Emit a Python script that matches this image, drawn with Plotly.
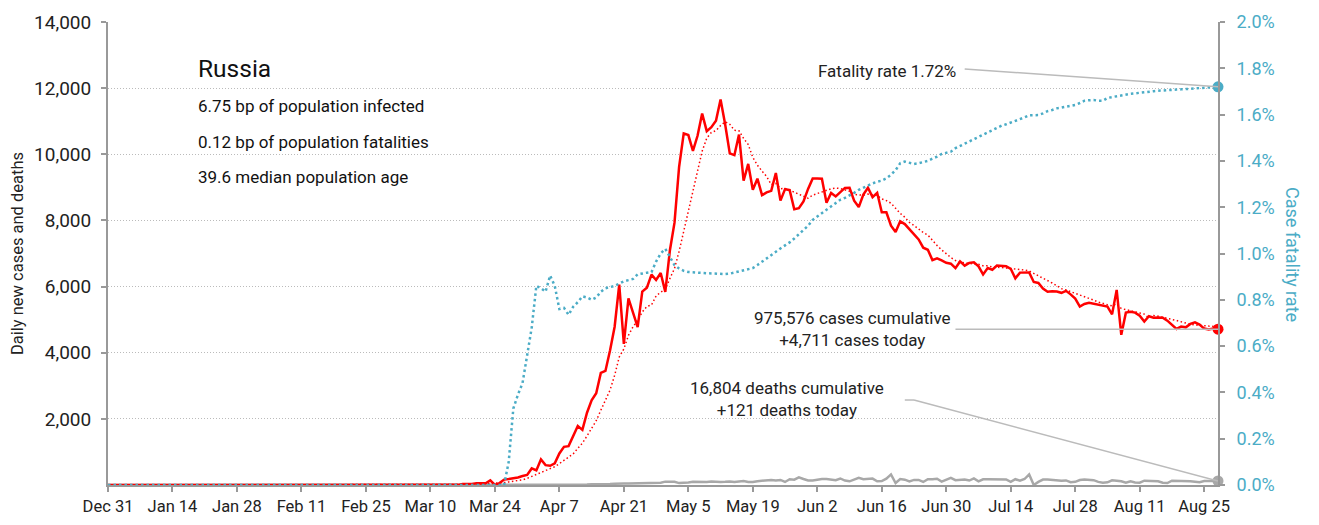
import pandas as pd
import plotly.graph_objects as go

# daily values (Dec 31 2019 .. Aug 28 2020)
dates = pd.date_range("2019-12-31", "2020-08-28", freq="D")

cases_early = [0] * 61  # Dec 31 .. Feb 29
cases_mar = [0, 0, 1, 0, 0, 1, 6, 4, 3, 0, 3, 8, 6, 11, 14, 4, 30, 21, 33, 52,
             54, 53, 140, 0, 57, 163, 182, 196, 228, 270, 302]
cases_apr = [501, 440, 771, 601, 582, 658, 954, 1154, 1175, 1459, 1786, 1667, 2186,
             2558, 2774, 3388, 3448, 4070, 4785, 6060, 4268, 5642, 5236, 4774, 5849,
             5966, 6361, 6198, 6411, 5841]
cases_may = [7099, 7933, 9623, 10633, 10581, 10102, 10559, 11231, 10699, 10817, 11012,
             11656, 10899, 10028, 9974, 10598, 9200, 9709, 8926, 9263, 8764, 8849, 8894,
             9434, 8599, 8946, 8915, 8338, 8371, 8572, 8952]
cases_jun = [9268, 9268, 9263, 8536, 8831, 8726, 8855, 8984, 8985, 8595, 8404, 8779,
             8987, 8706, 8835, 8246, 8248, 7843, 7652, 7972, 7889, 7728, 7600, 7425,
             7176, 7113, 6800, 6852, 6791, 6719]
cases_jul = [6693, 6556, 6760, 6632, 6718, 6736, 6611, 6368, 6562, 6509, 6635, 6620,
             6615, 6537, 6248, 6422, 6428, 6428, 6140, 6110, 5940, 5842, 5862, 5848,
             5811, 5871, 5765, 5635, 5395, 5475, 5509]
cases_aug = [5482, 5462, 5427, 5394, 5159, 5900, 4540, 5212, 5241, 5212, 5118, 4945,
             5102, 5057, 5065, 5061, 4969, 4839, 4718, 4790, 4767, 4870, 4921, 4852,
             4730, 4700, 4729, 4711]

deaths_early = [0] * 80  # Dec 31 .. Mar 19
deaths_mar = [1, 0, 0, 0, 0, 1, 0, 1, 2, 1, 3, 7]  # Mar 20 .. Mar 31
deaths_apr = [2, 2, 4, 2, 5, 2, 11, 11, 13, 18, 12, 12, 13, 24, 22, 20, 36, 28, 41, 51,
              48, 45, 46, 42, 57, 66, 47, 58, 66, 101]
deaths_may = [101, 96, 57, 58, 76, 95, 86, 98, 88, 104, 88, 94, 96, 107, 93, 113, 119,
              94, 91, 115, 127, 150, 153, 139, 153, 92, 174, 161, 232, 181, 138]
deaths_jun = [138, 162, 182, 178, 169, 144, 197, 134, 112, 171, 216, 174, 181, 194, 114,
              119, 193, 320, 60, 181, 161, 109, 154, 153, 92, 176, 176, 188, 104, 154]
deaths_jul = [216, 147, 154, 168, 135, 198, 111, 173, 175, 174, 188, 186, 168, 95, 175,
              130, 181, 320, 0, 95, 165, 168, 154, 142, 129, 138, 85, 95, 150, 167, 161]
deaths_aug = [147, 95, 70, 80, 144, 129, 114, 70, 110, 77, 70, 130, 119, 129, 114, 68,
              60, 130, 130, 121, 114, 114, 99, 85, 122, 121, 121, 121]

# case fatality rate, percent
cfr_early = [0] * 85  # Dec 31 .. Mar 24
cfr_mar = [0, 0, 0.10, 0.33, 0.39, 0.44, 0.56]  # Mar 25 .. Mar 31
cfr_apr = [0.68, 0.86, 0.85, 0.835, 0.905, 0.86, 0.76, 0.765, 0.735, 0.77, 0.79, 0.815,
           0.81, 0.80, 0.81, 0.835, 0.85, 0.855, 0.86, 0.87, 0.88, 0.885, 0.89, 0.91,
           0.915, 0.917, 0.92, 0.965, 1.00, 1.02]
cfr_may = [0.985, 0.95, 0.935, 0.925, 0.92, 0.918, 0.917, 0.916, 0.915, 0.914, 0.912,
           0.91, 0.911, 0.913, 0.918, 0.925, 0.93, 0.934, 0.937, 0.95, 0.965, 0.98,
           0.993, 1.008, 1.022, 1.035, 1.048, 1.065, 1.084, 1.10, 1.12]
cfr_jun = [1.145, 1.16, 1.175, 1.19, 1.205, 1.22, 1.232, 1.24, 1.25, 1.262, 1.275, 1.285,
           1.295, 1.303, 1.31, 1.315, 1.325, 1.34, 1.36, 1.39, 1.397, 1.392, 1.387, 1.39,
           1.395, 1.40, 1.41, 1.418, 1.43, 1.435]
cfr_jul = [1.44, 1.455, 1.465, 1.475, 1.485, 1.495, 1.505, 1.515, 1.525, 1.535, 1.545,
           1.552, 1.558, 1.565, 1.572, 1.58, 1.588, 1.597, 1.598, 1.598, 1.605, 1.615,
           1.62, 1.627, 1.63, 1.634, 1.638, 1.642, 1.65, 1.66, 1.662]
cfr_aug = [1.663, 1.66, 1.66, 1.672, 1.676, 1.68, 1.684, 1.687, 1.69, 1.692, 1.695,
           1.697, 1.699, 1.701, 1.703, 1.705, 1.706, 1.707, 1.708, 1.709, 1.71, 1.711,
           1.712, 1.713, 1.714, 1.716, 1.718, 1.72]

cases = cases_early + cases_mar + cases_apr + cases_may + cases_jun + cases_jul + cases_aug
deaths = deaths_early + deaths_mar + deaths_apr + deaths_may + deaths_jun + deaths_jul + deaths_aug
cfr = cfr_early + cfr_mar + cfr_apr + cfr_may + cfr_jun + cfr_jul + cfr_aug
cases_avg = pd.Series(cases).rolling(7, min_periods=1).mean()

RED = "#ff0000"
BLUE = "#4bacc6"
GREY = "#a8a8a8"
FONT = "Roboto, Liberation Sans, sans-serif"

fig = go.Figure()
fig.add_trace(go.Scatter(x=dates, y=deaths, mode="lines",
                         line=dict(color=GREY, width=2.5)))
fig.add_trace(go.Scatter(x=dates, y=cfr, mode="lines", yaxis="y2",
                         line=dict(color=BLUE, width=2.5, dash="2.5px,3px")))
fig.add_trace(go.Scatter(x=dates, y=cases_avg, mode="lines",
                         line=dict(color=RED, width=1.5, dash="1.5px,2.5px")))
fig.add_trace(go.Scatter(x=dates, y=cases, mode="lines",
                         line=dict(color=RED, width=2.5)))

# end markers
fig.add_trace(go.Scatter(x=[dates[-1]], y=[cases[-1]], mode="markers", cliponaxis=False,
                         marker=dict(color=RED, size=11)))
fig.add_trace(go.Scatter(x=[dates[-1]], y=[deaths[-1]], mode="markers", cliponaxis=False,
                         marker=dict(color=GREY, size=11)))
fig.add_trace(go.Scatter(x=[dates[-1]], y=[cfr[-1]], mode="markers", yaxis="y2",
                         cliponaxis=False, marker=dict(color=BLUE, size=11)))

# leader lines
lead = dict(color="#bbbbbb", width=1.5)
fig.add_shape(type="line", xref="x", yref="y2", x0="2020-07-04", y0=1.797,
              x1=dates[-1], y1=cfr[-1], line=lead)
fig.add_shape(type="line", xref="x", yref="y", x0="2020-07-02", y0=cases[-1],
              x1=dates[-1], y1=cases[-1], line=lead)
fig.add_shape(type="line", xref="x", yref="y", x0="2020-06-21", y0=2570,
              x1="2020-06-23", y1=2570, line=lead)
fig.add_shape(type="line", xref="x", yref="y", x0="2020-06-23", y0=2570,
              x1=dates[-1], y1=deaths[-1], line=lead)

BODY = 17
txt = dict(family=FONT, size=BODY, color="#222222")
notes = [
    (0.0797, 0.90, "Russia", 24.5),
    (0.0797, 0.8186, "6.75 bp of population infected", BODY),
    (0.0797, 0.741, "0.12 bp of population fatalities", BODY),
    (0.0797, 0.665, "39.6 median population age", BODY),
]
for x, y, t, s in notes:
    fig.add_annotation(x=x, y=y, xref="paper", yref="paper", text=t, showarrow=False,
                       xanchor="left", yanchor="middle",
                       font=dict(family=FONT, size=s, color="#111111"))
fig.add_annotation(x=0.766, y=0.894, xref="paper", yref="paper", text="Fatality rate 1.72%",
                   showarrow=False, xanchor="right", yanchor="middle", font=txt)
fig.add_annotation(x=0.671, y=0.336, xref="paper", yref="paper",
                   text="975,576 cases cumulative<br>+4,711 cases today",
                   showarrow=False, xanchor="center", yanchor="middle", align="center", font=txt)
fig.add_annotation(x=0.612, y=0.186, xref="paper", yref="paper",
                   text="16,804 deaths cumulative<br>+121 deaths today",
                   showarrow=False, xanchor="center", yanchor="middle", align="center", font=txt)
# right axis title reads top-to-bottom
fig.add_annotation(x=1.0666, y=0.497, xref="paper", yref="paper", text="Case fatality rate",
                   showarrow=False, textangle=90, xanchor="center", yanchor="middle",
                   font=dict(family=FONT, size=18, color=BLUE))

axis_line = dict(showline=True, linecolor="#999999", linewidth=2, automargin=False,
                 ticks="outside", ticklen=5, tickcolor="#999999", tickwidth=1.5)

# the page body adds 8px around the figure, so size and margins account for it
fig.update_layout(
    width=1303, height=509,
    margin=dict(l=99.5, r=93, t=14, b=32),
    paper_bgcolor="white", plot_bgcolor="white",
    showlegend=False,
    font=dict(family=FONT, size=18, color="#222222"),
    xaxis=dict(range=[dates[0], dates[-1]], tick0="2019-12-31", dtick=14 * 86400000,
               tickformat="%b %-d", showgrid=False, zeroline=False,
               tickfont=dict(size=16.5), **axis_line),
    yaxis=dict(range=[0, 14000], tickvals=list(range(2000, 14001, 2000)),
               tickformat=",d", showgrid=True, gridcolor="#bbbbbb", griddash="1px,2px",
               gridwidth=1, zeroline=False, tickfont=dict(size=19), ticklabelstandoff=6,
               title=dict(text="Daily new cases and deaths", font=dict(size=16.5), standoff=8),
               **axis_line),
    yaxis2=dict(range=[0, 2.0], overlaying="y", side="right", dtick=0.2,
                tickformat=".1f", ticksuffix="%", showgrid=False, zeroline=False,
                tickfont=dict(size=18, color=BLUE), ticklabelstandoff=8,
                **axis_line),
)

fig.write_html("out.html")
